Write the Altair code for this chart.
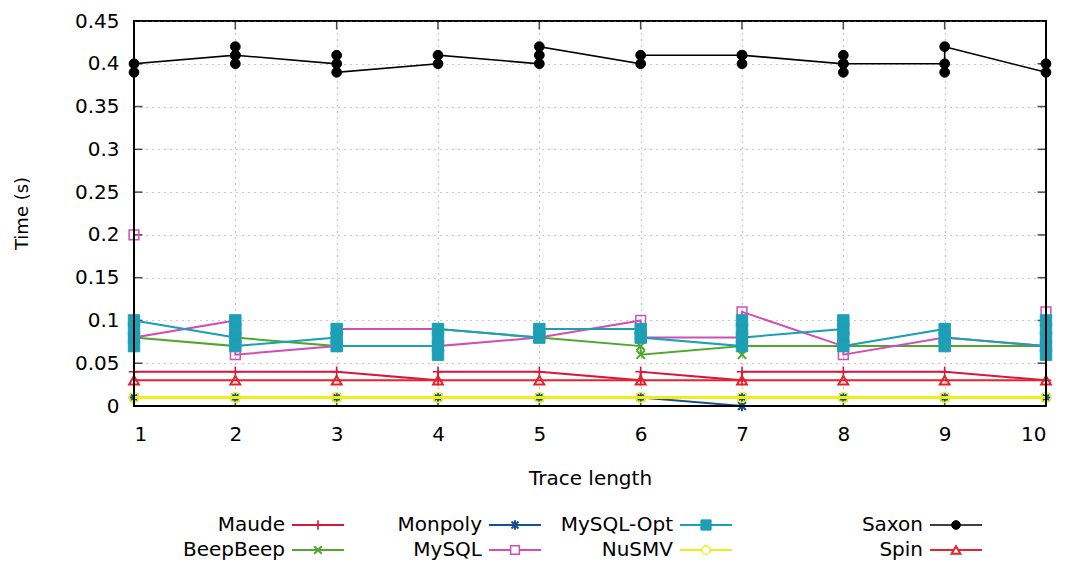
import altair as alt
import pandas as pd

# ---------------- data ----------------
trace_len = [1, 2, 3, 4, 5, 6, 7, 8, 9, 10]
y_ticks = [0, 0.05, 0.1, 0.15, 0.2, 0.25, 0.3, 0.35, 0.4, 0.45]
series = ["Maude", "BeepBeep", "Monpoly", "MySQL", "MySQL-Opt", "NuSMV", "Saxon", "Spin"]

# each entry: the measured times at one trace length, in plotting order
maude = [[0.04], [0.04], [0.04], [0.03, 0.04], [0.04], [0.03, 0.04], [0.03, 0.04], [0.04], [0.04], [0.03]]
beepbeep = [[0.08], [0.07, 0.08], [0.07, 0.09], [0.09], [0.08], [0.07, 0.06], [0.07, 0.06, 0.07], [0.07], [0.07], [0.07]]
monpoly = [[0.01], [0.01], [0.01], [0.01], [0.01], [0.01], [0.0, 0.01], [0.01], [0.01], [0.01]]
mysql = [[0.2, 0.08], [0.10, 0.06], [0.07, 0.09], [0.09, 0.07], [0.08], [0.10, 0.08], [0.08, 0.11], [0.07, 0.06], [0.08], [0.07, 0.11]]
mysql_opt = [[0.07, 0.08, 0.09, 0.10], [0.08, 0.09, 0.10, 0.07], [0.08, 0.09, 0.07], [0.07, 0.06, 0.08, 0.09],
             [0.08, 0.09], [0.09, 0.08], [0.07, 0.09, 0.10, 0.08], [0.09, 0.10, 0.08, 0.07], [0.09, 0.07, 0.08],
             [0.07, 0.06, 0.08, 0.09, 0.10]]
nusmv = [[0.01], [0.01], [0.01], [0.01], [0.01], [0.01], [0.01], [0.01], [0.01], [0.01]]
saxon = [[0.39, 0.40], [0.41, 0.40, 0.42, 0.41], [0.40, 0.41, 0.39], [0.40, 0.41], [0.40, 0.41, 0.42],
         [0.40, 0.41], [0.41, 0.40, 0.41], [0.40, 0.41, 0.39, 0.40], [0.40, 0.39, 0.42], [0.39, 0.40]]
spin = [[0.03], [0.03], [0.03], [0.03], [0.03], [0.03], [0.03], [0.03], [0.03], [0.03]]

values = {"Maude": maude, "BeepBeep": beepbeep, "Monpoly": monpoly, "MySQL": mysql,
          "MySQL-Opt": mysql_opt, "NuSMV": nusmv, "Saxon": saxon, "Spin": spin}

legend_col = [0, 0, 1, 1, 2, 2, 3, 3]
legend_row = [0, 1, 0, 1, 0, 1, 0, 1]

# ---------------- styles ----------------
PLUS = "M-1,0L1,0M0,-1L0,1"
XMARK = "M-0.8,-0.8L0.8,0.8M-0.8,0.8L0.8,-0.8"
STAR = "M-1,0L1,0M0,-1L0,1M-0.75,-0.75L0.75,0.75M-0.75,0.75L0.75,-0.75"
style = {
    "Maude":     dict(color="#d8173f", shape=PLUS, filled=False, size=110, sw=1.6, lw=2.0),
    "BeepBeep":  dict(color="#4fa82c", shape=XMARK, filled=False, size=110, sw=2.0, lw=2.0),
    "Monpoly":   dict(color="#164f94", shape=STAR, filled=False, size=110, sw=2.0, lw=2.0),
    "MySQL":     dict(color="#d04fb4", shape="square", filled=False, size=95, sw=1.5, lw=2.0),
    "MySQL-Opt": dict(color="#1d9fb6", shape="square", filled=True, size=130, sw=1.0, lw=2.0),
    "NuSMV":     dict(color="#eeee1e", shape="circle", filled=False, size=95, sw=1.5, lw=3.0),
    "Saxon":     dict(color="#000000", shape="circle", filled=True, size=95, sw=1.0, lw=1.6),
    "Spin":      dict(color="#e8212b", shape="triangle-up", filled=False, size=95, sw=2.0, lw=2.0),
}

rows = []
for s in series:
    i = 0
    for x, ys in zip(trace_len, values[s]):
        for y in ys:
            rows.append({"series": s, "x": x, "y": y, "i": i})
            i += 1
df = pd.DataFrame(rows)

FONT = "DejaVu Sans"
FS_TICK = 20
FS_XTITLE = 20
FS_YTITLE = 18
FS_LEG = 20

xscale = alt.Scale(domain=[1, 10], nice=False, zero=False)
x_enc = alt.X("x:Q", scale=xscale,
              axis=alt.Axis(values=trace_len, format="d", title="Trace length", grid=True, ticks=False, domain=False,
                            labelPadding=18, titleX=456, titleY=72, titleBaseline="middle",
                            titleFontSize=FS_XTITLE))
y_enc = alt.Y("y:Q", scale=alt.Scale(domain=[0, 0.45], nice=False),
              axis=alt.Axis(values=y_ticks, format="~g", title="Time (s)", grid=True, ticks=False, domain=False,
                            labelPadding=15, titleX=-112, titleY=192, titleBaseline="middle",
                            titleFontSize=FS_YTITLE))

base = alt.Chart(df)
layers = []

# inward ticks (gnuplot style) on all four borders
inner_y = pd.DataFrame({"y": y_ticks[1:-1]})
inner_x = pd.DataFrame({"x": trace_len[1:-1]})
layers.append(alt.Chart(inner_y).mark_tick(orient="horizontal", size=9, thickness=1.5, color="black", xOffset=4)
              .encode(x=alt.datum(1, type="quantitative", scale=xscale), y=y_enc))
layers.append(alt.Chart(inner_y).mark_tick(orient="horizontal", size=9, thickness=1.5, color="black", xOffset=-4)
              .encode(x=alt.datum(10, type="quantitative"), y="y:Q"))
layers.append(alt.Chart(inner_x).mark_tick(orient="vertical", size=9, thickness=1.5, color="black", yOffset=-4)
              .encode(x=x_enc, y=alt.datum(0, type="quantitative")))
layers.append(alt.Chart(inner_x).mark_tick(orient="vertical", size=9, thickness=1.5, color="black", yOffset=4)
              .encode(x="x:Q", y=alt.datum(0.45, type="quantitative")))

for s in series:
    st = style[s]
    sub = base.transform_filter(alt.datum.series == s)
    layers.append(sub.mark_line(color=st["color"], strokeWidth=st["lw"])
                  .encode(x=x_enc, y=y_enc, order="i:Q"))
    pt_kwargs = dict(shape=st["shape"], size=st["size"], filled=st["filled"], opacity=1)
    if st["filled"]:
        pt_kwargs.update(fill=st["color"], stroke=st["color"], strokeWidth=st["sw"])
    else:
        pt_kwargs.update(stroke=st["color"], strokeWidth=st["sw"], fillOpacity=0)
    layers.append(sub.mark_point(**pt_kwargs).encode(x=x_enc, y=y_enc))

# border drawn in front, as gnuplot does
layers.append(alt.Chart(inner_x).mark_rule(color="black", strokeWidth=2)
              .encode(x=alt.datum(1, type="quantitative"), y=alt.datum(0, type="quantitative"),
                      y2=alt.datum(0.45)))
layers.append(alt.Chart(inner_x).mark_rule(color="black", strokeWidth=2)
              .encode(x=alt.datum(10, type="quantitative"), y=alt.datum(0, type="quantitative"),
                      y2=alt.datum(0.45)))
layers.append(alt.Chart(inner_x).mark_rule(color="black", strokeWidth=2)
              .encode(x=alt.datum(1, type="quantitative"), x2=alt.datum(10), y=alt.datum(0, type="quantitative")))

main = alt.layer(*layers)

# ---------------- legend (gnuplot-like: label, then line sample with marker) ----------------
leg_df = pd.DataFrame({"series": series, "col": legend_col, "row": legend_row})
lx = alt.X("col:Q", scale=alt.Scale(domain=[0, 1, 2, 3], range=[158, 355, 546, 796]), axis=None)
ly = alt.Y("row:Q", scale=alt.Scale(domain=[0, 1], range=[504, 529]), axis=None)
leg_layers = [alt.Chart(leg_df).mark_text(align="right", baseline="middle", dx=-7, fontSize=FS_LEG, font=FONT, color="black")
              .encode(x=lx, y=ly, text="series:N")]
for s in series:
    st = style[s]
    sub = alt.Chart(leg_df).transform_filter(alt.datum.series == s)
    leg_layers.append(sub.mark_rule(color=st["color"], strokeWidth=st["lw"] if s != "NuSMV" else 2.0, x2Offset=52)
                      .encode(x=lx, x2=alt.X2("col:Q"), y=ly))
    pt_kwargs = dict(shape=st["shape"], size=st["size"] * 0.8, filled=st["filled"], opacity=1, xOffset=26)
    if st["filled"]:
        pt_kwargs.update(fill=st["color"], stroke=st["color"], strokeWidth=st["sw"])
    else:
        pt_kwargs.update(stroke=st["color"], strokeWidth=st["sw"], fill="white", fillOpacity=1)
    leg_layers.append(sub.mark_point(**pt_kwargs).encode(x=lx, y=ly))
legend = alt.layer(*leg_layers)

chart = (alt.layer(main, legend)
         .resolve_scale(x="independent", y="independent")
         .properties(width=912, height=385,
                     autosize=alt.AutoSizeParams(type="none"),
                     padding={"left": 134, "top": 21, "right": 20, "bottom": 168},
                     background="white")
         .configure_view(stroke="black", strokeWidth=2)
         .configure_axis(labelFont=FONT, titleFont=FONT, labelFontSize=FS_TICK,
                         labelColor="black", titleColor="black", titleFontWeight="normal",
                         gridColor="#888888", gridDash=[1, 5], gridWidth=1.2, gridOpacity=0.9)
         .configure_text(font=FONT))

chart.save("out.html", embed_options={"renderer": "svg", "actions": False})
